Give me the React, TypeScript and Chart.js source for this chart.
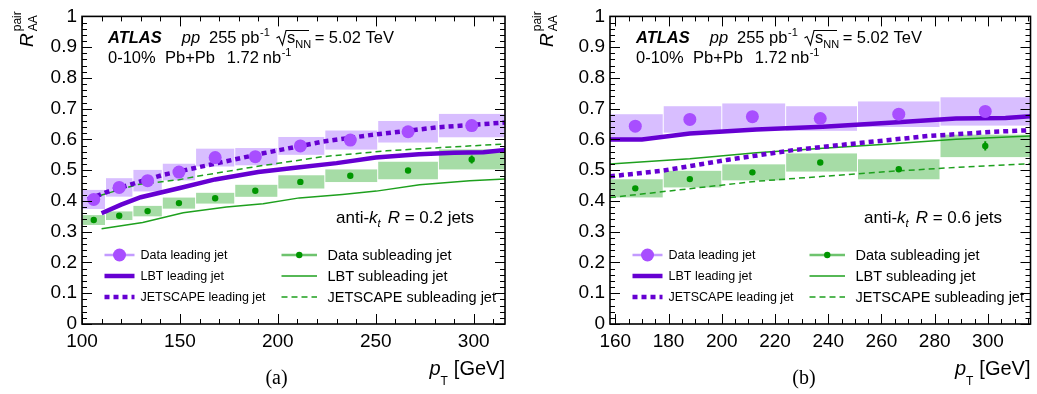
import React, { useEffect, useRef } from 'react';
import { Chart, registerables } from 'chart.js';

Chart.register(...registerables);

const SANS = '"Liberation Sans", Arial, Helvetica, sans-serif';
const SERIF = '"Liberation Serif", "Times New Roman", serif';

const LEAD_MARK = 'rgb(168, 78, 255)';
const LEAD_BOX = 'rgb(216, 190, 255)';
const LEAD_LEG = 'rgb(195, 155, 255)';
const LEAD_LINE = 'rgb(102, 0, 210)';
const SUB_MARK = 'rgb(0, 150, 0)';
const SUB_BOX = 'rgb(166, 220, 166)';
const SUB_LEG = 'rgb(110, 195, 110)';
const SUB_LINE = 'rgb(30, 160, 30)';

// ---------------- Panel (a): anti-kt R = 0.2 ----------------
const binEdgesA = [100, 112, 126, 141, 158, 178, 200, 224, 251, 282, 316];
const ptA = [106, 119, 133.5, 149.5, 168, 188.5, 211.5, 237, 266.5, 299];
const leadA = [0.405, 0.444, 0.466, 0.494, 0.541, 0.544, 0.579, 0.598, 0.625, 0.645];
const leadSysA = [0.031, 0.03, 0.035, 0.027, 0.029, 0.028, 0.029, 0.031, 0.035, 0.038];
const leadStatA = [0.004, 0.004, 0.004, 0.004, 0.004, 0.005, 0.005, 0.006, 0.007, 0.009];
const subA = [0.338, 0.352, 0.367, 0.393, 0.409, 0.433, 0.462, 0.482, 0.499, 0.535];
const subSysA = [0.016, 0.014, 0.017, 0.018, 0.0175, 0.0195, 0.0215, 0.0205, 0.0285, 0.0325];
const subStatA = [0.003, 0.003, 0.003, 0.003, 0.004, 0.004, 0.005, 0.006, 0.007, 0.013];

const lbtLeadXA = [110, 120, 130, 150, 168, 190, 210, 230, 250, 272, 290, 305, 316];
const lbtLeadYA = [0.36, 0.388, 0.412, 0.442, 0.47, 0.494, 0.509, 0.523, 0.541, 0.552, 0.557, 0.558, 0.566];
const jsLeadXA = [103, 114, 128, 141.5, 167, 192.5, 223, 247, 281, 316];
const jsLeadYA = [0.405, 0.432, 0.46, 0.485, 0.52, 0.555, 0.593, 0.614, 0.639, 0.655];
const lbtSubXA = [110, 131, 151.7, 173.8, 192.5, 211, 233, 250.3, 272.4, 298, 316];
const lbtSubYA = [0.31, 0.33, 0.362, 0.38, 0.391, 0.41, 0.421, 0.432, 0.453, 0.466, 0.471];
const jsSubXA = [104, 128, 149.5, 158.5, 189, 223, 255.5, 289.4, 316];
const jsSubYA = [0.408, 0.453, 0.469, 0.48, 0.512, 0.544, 0.563, 0.576, 0.585];

const xTicksA = [100, 150, 200, 250, 300];
const xMinorStepA = 10;

// ---------------- Panel (b): anti-kt R = 0.6 ----------------
const binEdgesB = [158, 178, 200, 224, 251, 282, 316];
const ptB = [167.5, 188, 211.5, 237, 266.5, 299];
const leadB = [0.643, 0.665, 0.674, 0.668, 0.682, 0.691];
const leadSysB = [0.039, 0.043, 0.043, 0.04, 0.0415, 0.046];
const leadStatB = [0.005, 0.005, 0.006, 0.006, 0.008, 0.01];
const subB = [0.441, 0.471, 0.493, 0.525, 0.503, 0.579];
const subSysB = [0.0295, 0.027, 0.026, 0.0295, 0.0325, 0.0365];
const subStatB = [0.004, 0.005, 0.006, 0.007, 0.008, 0.015];

const lbtLeadXB = [158, 170, 188, 213, 238, 263, 288, 306.6, 316];
const lbtLeadYB = [0.6, 0.6, 0.619, 0.632, 0.641, 0.654, 0.668, 0.67, 0.675];
const jsLeadXB = [158, 177.4, 202.4, 227.4, 252.4, 277.4, 302.3, 316];
const jsLeadYB = [0.48, 0.498, 0.534, 0.566, 0.589, 0.611, 0.625, 0.63];
const lbtSubXB = [158, 188, 213, 238, 263, 288, 316];
const lbtSubYB = [0.52, 0.537, 0.557, 0.571, 0.585, 0.601, 0.611];
const jsSubXB = [158, 188, 213, 238, 263, 288, 316];
const jsSubYB = [0.411, 0.44, 0.464, 0.48, 0.496, 0.509, 0.521];

const xTicksB = [160, 180, 200, 220, 240, 260, 280, 300];
const xMinorStepB = 5;

const yTicks = [0, 0.1, 0.2, 0.3, 0.4, 0.5, 0.6, 0.7, 0.8, 0.9, 1];
const yMinorStep = 0.02;

const legendLeft = ['Data leading jet', 'LBT leading jet', 'JETSCAPE leading jet'];
const legendRight = ['Data subleading jet', 'LBT subleading jet', 'JETSCAPE subleading jet'];

type Panel = {
  edges: number[]; pt: number[];
  lead: number[]; leadSys: number[]; leadStat: number[];
  sub: number[]; subSys: number[]; subStat: number[];
  lbtLeadX: number[]; lbtLeadY: number[]; jsLeadX: number[]; jsLeadY: number[];
  lbtSubX: number[]; lbtSubY: number[]; jsSubX: number[]; jsSubY: number[];
  xMin: number; xMax: number; xTicks: number[]; xMinorStep: number;
  yAxisW: number; padRight: number; width: number; left: number;
  tag: string; tagX: number; radius: string; yTitleX: number;
};

const panelA: Panel = {
  edges: binEdgesA, pt: ptA, lead: leadA, leadSys: leadSysA, leadStat: leadStatA,
  sub: subA, subSys: subSysA, subStat: subStatA,
  lbtLeadX: lbtLeadXA, lbtLeadY: lbtLeadYA, jsLeadX: jsLeadXA, jsLeadY: jsLeadYA,
  lbtSubX: lbtSubXA, lbtSubY: lbtSubYA, jsSubX: jsSubXA, jsSubY: jsSubYA,
  xMin: 100, xMax: 316, xTicks: xTicksA, xMinorStep: xMinorStepA,
  yAxisW: 82, padRight: 13, width: 518, left: 0,
  tag: '(a)', tagX: 276.5, radius: '0.2', yTitleX: 33,
};

const panelB: Panel = {
  edges: binEdgesB, pt: ptB, lead: leadB, leadSys: leadSysB, leadStat: leadStatB,
  sub: subB, subSys: subSysB, subStat: subStatB,
  lbtLeadX: lbtLeadXB, lbtLeadY: lbtLeadYB, jsLeadX: jsLeadXB, jsLeadY: jsLeadYB,
  lbtSubX: lbtSubXB, lbtSubY: lbtSubYB, jsSubX: jsSubXB, jsSubY: jsSubYB,
  xMin: 158, xMax: 316, xTicks: xTicksB, xMinorStep: xMinorStepB,
  yAxisW: 92, padRight: 5, width: 519, left: 518,
  tag: '(b)', tagX: 286, radius: '0.6', yTitleX: 35,
};

type Seg = { t: string; size: number; style?: string; dy?: number; at?: number; dx?: number };

function drawRich(ctx: CanvasRenderingContext2D, x: number, y: number, segs: Seg[]) {
  let cx = x;
  for (const s of segs) {
    if (s.at !== undefined) cx = x + s.at;
    cx += s.dx ?? 0;
    ctx.font = `${s.style ?? ''} ${s.size}px ${SANS}`.trim();
    ctx.fillText(s.t, cx, y + (s.dy ?? 0));
    cx += ctx.measureText(s.t).width;
  }
  return cx;
}

function pts(xs: number[], ys: number[]) {
  return xs.map((x, i) => ({ x, y: ys[i] }));
}

function makePlugin(p: Panel) {
  return {
    id: 'atlasDecor',
    beforeDatasetsDraw(chart: any) {
      const { ctx, chartArea: a, scales } = chart;
      const x = scales.x, y = scales.y;
      ctx.save();
      ctx.beginPath();
      ctx.rect(a.left, a.top, a.right - a.left, a.bottom - a.top);
      ctx.clip();
      const boxes = (vals: number[], sys: number[], color: string) => {
        ctx.fillStyle = color;
        for (let i = 0; i < vals.length; i++) {
          const x0 = x.getPixelForValue(p.edges[i]);
          const x1 = x.getPixelForValue(p.edges[i + 1]);
          const y0 = y.getPixelForValue(vals[i] + sys[i]);
          const y1 = y.getPixelForValue(vals[i] - sys[i]);
          ctx.fillRect(x0 + 0.5, y0, x1 - x0 - 1, y1 - y0);
        }
      };
      boxes(p.lead, p.leadSys, LEAD_BOX);
      boxes(p.sub, p.subSys, SUB_BOX);
      const errs = (vals: number[], st: number[], color: string, w: number) => {
        ctx.strokeStyle = color;
        ctx.lineWidth = w;
        for (let i = 0; i < vals.length; i++) {
          const px = x.getPixelForValue(p.pt[i]);
          ctx.beginPath();
          ctx.moveTo(px, y.getPixelForValue(vals[i] + st[i]));
          ctx.lineTo(px, y.getPixelForValue(vals[i] - st[i]));
          ctx.stroke();
        }
      };
      errs(p.lead, p.leadStat, LEAD_MARK, 2);
      errs(p.sub, p.subStat, SUB_MARK, 2);
      ctx.restore();
    },
    afterDraw(chart: any) {
      const { ctx, chartArea: a, scales } = chart;
      const x = scales.x, y = scales.y;
      ctx.save();
      // ticks
      ctx.strokeStyle = '#000';
      ctx.lineWidth = 1;
      const vline = (px: number, y0: number, y1: number) => {
        ctx.beginPath(); ctx.moveTo(px, y0); ctx.lineTo(px, y1); ctx.stroke();
      };
      const hline = (py: number, x0: number, x1: number) => {
        ctx.beginPath(); ctx.moveTo(x0, py); ctx.lineTo(x1, py); ctx.stroke();
      };
      const start = Math.ceil(p.xMin / p.xMinorStep) * p.xMinorStep;
      for (let v = start; v <= p.xMax + 1e-9; v += p.xMinorStep) {
        const major = p.xTicks.includes(v);
        const len = major ? 10 : 5;
        const px = Math.round(x.getPixelForValue(v)) + 0.5;
        vline(px, a.bottom, a.bottom - len);
        vline(px, a.top, a.top + len);
      }
      for (let k = 0; k <= 50; k++) {
        const v = k * yMinorStep;
        const major = k % 5 === 0;
        const len = major ? 10 : 5;
        const py = Math.round(y.getPixelForValue(v)) + 0.5;
        hline(py, a.left, a.left + len);
        hline(py, a.right, a.right - len);
      }
      ctx.lineWidth = 1.6;
      ctx.strokeRect(a.left, a.top, a.right - a.left, a.bottom - a.top);

      ctx.fillStyle = '#000';
      ctx.textAlign = 'left';
      ctx.textBaseline = 'alphabetic';
      // Header
      const hx = a.left;
      drawRich(ctx, hx, 42.7, [
        { t: 'ATLAS', size: 16.5, style: 'italic bold', at: 26 },
        { t: 'pp', size: 16.5, style: 'italic', at: 99.7 },
        { t: '255 pb', size: 16.5, at: 127 },
        { t: '-1', size: 11, dy: -7, dx: 0.5 },
        { t: 's', size: 16.5, at: 205 },
        { t: 'NN', size: 11, dy: 5 },
        { t: '= 5.02 TeV', size: 16.5, dx: 3.5 },
      ]);
      ctx.lineWidth = 1.1;
      ctx.beginPath();
      ctx.moveTo(hx + 194.5, 38);
      ctx.lineTo(hx + 197, 36.5);
      ctx.lineTo(hx + 200.5, 45);
      ctx.lineTo(hx + 204, 30.5);
      ctx.lineTo(hx + 227, 30.5);
      ctx.stroke();
      drawRich(ctx, hx, 63.3, [
        { t: '0-10%', size: 16.5, at: 26 },
        { t: 'Pb+Pb', size: 16.5, at: 83 },
        { t: '1.72', size: 16.5, at: 144.7 },
        { t: 'nb', size: 16.5, dx: 4 },
        { t: '-1', size: 11, dy: -7, dx: 0.5 },
      ]);
      // jet radius label
      drawRich(ctx, hx + 254, 223, [
        { t: 'anti-', size: 17 },
        { t: 'k', size: 17, style: 'italic' },
        { t: 't', size: 11, style: 'italic', dy: 4 },
        { t: 'R', size: 17, style: 'italic', dx: 7 },
        { t: ` = ${p.radius} jets`, size: 17 },
      ]);

      // Legend
      const rows = [255, 276, 297];
      const line = (x0: number, x1: number, yy: number, color: string, w: number, dash: number[]) => {
        ctx.save();
        ctx.strokeStyle = color;
        ctx.lineWidth = w;
        ctx.setLineDash(dash);
        ctx.beginPath(); ctx.moveTo(x0, yy); ctx.lineTo(x1, yy); ctx.stroke();
        ctx.restore();
      };
      const dot = (cx: number, cy: number, r: number, color: string) => {
        ctx.fillStyle = color;
        ctx.beginPath(); ctx.arc(cx, cy, r, 0, Math.PI * 2); ctx.fill();
      };
      const L0 = hx + 22.5, L1 = hx + 52.5, LT = hx + 58.5;
      line(L0, L1, rows[0], LEAD_LEG, 2.5, []);
      dot((L0 + L1) / 2, rows[0], 6.5, LEAD_MARK);
      line(L0, L1, rows[1], LEAD_LINE, 4.5, []);
      line(L0, L1, rows[2], LEAD_LINE, 4.5, [5, 4]);
      const R0 = hx + 199.5, R1 = hx + 235, RT = hx + 245.5;
      line(R0, R1, rows[0], SUB_LEG, 2.5, []);
      dot((R0 + R1) / 2, rows[0], 3.2, SUB_MARK);
      line(R0, R1, rows[1], SUB_LINE, 1.5, []);
      line(R0, R1, rows[2], SUB_LINE, 1.5, [6, 4]);
      ctx.fillStyle = '#000';
      ctx.textBaseline = 'middle';
      ctx.font = `12.5px ${SANS}`;
      legendLeft.forEach((t, i) => ctx.fillText(t, LT, rows[i] + 0.5));
      ctx.font = `14.5px ${SANS}`;
      legendRight.forEach((t, i) => ctx.fillText(t, RT, rows[i] + 0.5));

      // X title
      ctx.textBaseline = 'alphabetic';
      ctx.font = `20px ${SANS}`;
      const gev = '[GeV]';
      const gw = ctx.measureText(gev).width;
      const gx = a.right - gw;
      ctx.fillText(gev, gx, 375);
      ctx.font = `12px ${SANS}`;
      const tw = ctx.measureText('T').width;
      ctx.fillText('T', gx - 6 - tw, 385);
      ctx.font = `italic 20px ${SANS}`;
      const pw = ctx.measureText('p').width;
      ctx.fillText('p', gx - 6 - tw - pw, 375);

      // Y title (rotated)
      ctx.save();
      ctx.translate(p.yTitleX, 47);
      ctx.rotate(-Math.PI / 2);
      ctx.font = `italic 19px ${SANS}`;
      ctx.fillText('R', 0, 0);
      const rw = ctx.measureText('R').width;
      ctx.font = `12px ${SANS}`;
      ctx.fillText('pair', rw + 2, -12.5);
      ctx.fillText('AA', rw + 2, 4);
      ctx.restore();

      // panel tag
      ctx.textAlign = 'center';
      ctx.font = `20px ${SERIF}`;
      ctx.fillText(p.tag, p.tagX, 384);
      ctx.restore();
    },
  };
}

function buildConfig(p: Panel): any {
  return {
    type: 'line',
    data: {
      datasets: [
        {
          label: 'Data leading jet', data: pts(p.pt, p.lead), showLine: false,
          pointRadius: 6.5, pointBackgroundColor: LEAD_MARK, pointBorderWidth: 0, order: 0,
        },
        {
          label: 'Data subleading jet', data: pts(p.pt, p.sub), showLine: false,
          pointRadius: 3.2, pointBackgroundColor: SUB_MARK, pointBorderWidth: 0, order: 1,
        },
        {
          label: 'JETSCAPE leading jet', data: pts(p.jsLeadX, p.jsLeadY), borderColor: LEAD_LINE,
          borderWidth: 4.5, borderDash: [5, 4], pointRadius: 0, fill: false, order: 2,
        },
        {
          label: 'LBT leading jet', data: pts(p.lbtLeadX, p.lbtLeadY), borderColor: LEAD_LINE,
          borderWidth: 4.5, pointRadius: 0, fill: false, order: 3,
        },
        {
          label: 'JETSCAPE subleading jet', data: pts(p.jsSubX, p.jsSubY), borderColor: SUB_LINE,
          borderWidth: 1.5, borderDash: [6, 4], pointRadius: 0, fill: false, order: 4,
        },
        {
          label: 'LBT subleading jet', data: pts(p.lbtSubX, p.lbtSubY), borderColor: SUB_LINE,
          borderWidth: 1.5, pointRadius: 0, fill: false, order: 5,
        },
      ],
    },
    options: {
      responsive: false,
      devicePixelRatio: 1,
      animation: false,
      events: [],
      layout: { padding: { left: 0, top: 13.5, right: p.padRight, bottom: 0 } },
      plugins: { legend: { display: false }, tooltip: { enabled: false } },
      elements: { line: { tension: 0 } },
      scales: {
        x: {
          type: 'linear', min: p.xMin, max: p.xMax,
          grid: { display: false, drawTicks: false }, border: { display: false },
          ticks: {
            font: { family: SANS, size: 19 }, color: '#000', padding: 6,
            maxRotation: 0, autoSkip: false, callback: (v: number) => String(v),
          },
          afterBuildTicks: (s: any) => { s.ticks = p.xTicks.map((v) => ({ value: v })); },
          afterFit: (s: any) => { s.height = 70; },
        },
        y: {
          type: 'linear', min: 0, max: 1,
          grid: { display: false, drawTicks: false }, border: { display: false },
          ticks: {
            font: { family: SANS, size: 19 }, color: '#000', padding: 5, autoSkip: false,
            callback: (v: number) => (Math.abs(v) < 1e-9 ? '0' : Math.abs(v - 1) < 1e-9 ? '1' : v.toFixed(1)),
          },
          afterBuildTicks: (s: any) => { s.ticks = yTicks.map((v) => ({ value: v })); },
          afterFit: (s: any) => { s.width = p.yAxisW; },
        },
      },
    },
    plugins: [makePlugin(p)],
  };
}

function PanelChart({ panel }: { panel: Panel }) {
  const ref = useRef<HTMLCanvasElement>(null);
  useEffect(() => {
    const chart = new Chart(ref.current as HTMLCanvasElement, buildConfig(panel));
    return () => chart.destroy();
  }, [panel]);
  return (
    <canvas
      ref={ref}
      width={panel.width}
      height={394}
      style={{ position: 'absolute', left: panel.left, top: 0, width: panel.width, height: 394 }}
    />
  );
}

export default function App() {
  return (
    <div style={{ position: 'absolute', left: 0, top: 0, width: 1037, height: 394, background: '#fff', overflow: 'hidden' }}>
      <PanelChart panel={panelA} />
      <PanelChart panel={panelB} />
    </div>
  );
}
